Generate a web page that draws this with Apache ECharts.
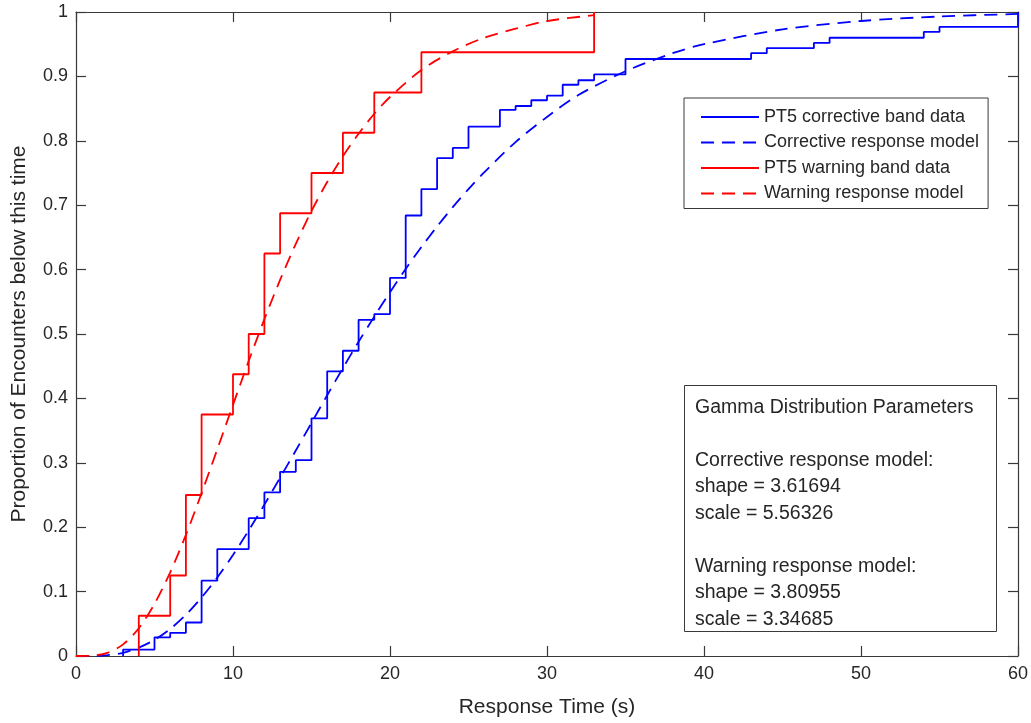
<!DOCTYPE html>
<html>
<head>
<meta charset="utf-8">
<script src="https://cdn.jsdelivr.net/npm/echarts@6/dist/echarts.min.js"></script>
<style>
html,body{margin:0;padding:0;background:#fff;}
#chart{width:1031px;height:723px;}
</style>
</head>
<body>
<div id="chart"></div>
<script>
// ---- Data ----
// Empirical step data: x where the step occurs, and the level after the step
const correctiveStepX = [3,5,6,7,8,9,11,12,13,14,15,16,17,18,19,20,21,22,23,24,25,27,28,29,30,31,32,33,35,43,44,47,48,54,55,60];
const correctiveStepY = [0.010,0.029,0.036,0.052,0.117,0.166,0.214,0.254,0.286,0.304,0.369,0.442,0.474,0.522,0.531,0.587,0.684,0.725,0.773,0.789,0.822,0.848,0.854,0.863,0.870,0.887,0.894,0.903,0.927,0.936,0.944,0.952,0.960,0.969,0.977,1.0];

const warningStepX = [4,6,7,8,10,11,12,13,15,17,19,22,33];
const warningStepY = [0.0625,0.125,0.25,0.375,0.4375,0.5,0.625,0.6875,0.75,0.8125,0.875,0.9375,1.0];

// Fitted model curves (dashed)
const correctiveModelX = [0,1,2,3,4,5,6,7,8,9,10,11,12,13,14,15,16,17,18,19,20,21,22,23,24,25,26,28,30,32,35,38,40,45,50,55,60];
const correctiveModelY = [0,0.0001,0.0014,0.005,0.013,0.025,0.042,0.064,0.091,0.122,0.157,0.195,0.235,0.277,0.319,0.362,0.405,0.447,0.488,0.527,0.565,0.601,0.635,0.667,0.697,0.725,0.751,0.798,0.837,0.871,0.908,0.936,0.950,0.973,0.986,0.993,0.997];

const warningModelX = [0,1,2,3,4,5,6,7,8,9,10,11,12,13,14,15,16,17,18,19,20,22,24,26,28,30,33];
const warningModelY = [0,0.0004,0.005,0.018,0.043,0.081,0.130,0.188,0.253,0.321,0.390,0.458,0.523,0.584,0.640,0.691,0.736,0.776,0.811,0.842,0.868,0.910,0.939,0.960,0.974,0.986,0.995];

const seriesNames = ['PT5 corrective band data','Corrective response model','PT5 warning band data','Warning response model'];
const xAxisTitle = 'Response Time (s)';
const yAxisTitle = 'Proportion of Encounters below this time';
const paramLines = [
  'Gamma Distribution Parameters',
  '',
  'Corrective response model:',
  'shape = 3.61694',
  'scale = 5.56326',
  '',
  'Warning response model:',
  'shape = 3.80955',
  'scale = 3.34685'
];

// ---- Build ----
function stepData(xs, ys){
  const d = [[xs[0], 0]];
  xs.forEach((x,i)=>d.push([x, ys[i]]));
  return d;
}
function zip(xs, ys){ return xs.map((x,i)=>[x, ys[i]]); }

const FONT = "'Liberation Sans', Arial, Helvetica, sans-serif";
const TXT = '#262626';
const AX = '#3a3a3a';
const BLUE = '#0000ff';
const RED = '#ff0000';
const DASH = [13, 8];

const axisCommon = {
  axisLine: { show: true, onZero: false, lineStyle: { color: AX, width: 1.2 } },
  axisTick: { show: true, inside: true, length: 10, lineStyle: { color: AX, width: 1.2 } },
  splitLine: { show: false }
};

const chart = echarts.init(document.getElementById('chart'), null, { renderer: 'canvas' });
chart.setOption({
  animation: false,
  backgroundColor: '#ffffff',
  grid: { left: 76, right: 13, top: 12, bottom: 67, containLabel: false },
  xAxis: [
    Object.assign({
      type: 'value', min: 0, max: 60, interval: 10, position: 'bottom',
      axisLabel: { color: TXT, fontSize: 18, fontFamily: FONT, margin: 9 },
      name: xAxisTitle, nameLocation: 'middle', nameGap: 41,
      nameTextStyle: { color: TXT, fontSize: 21, fontFamily: FONT }
    }, axisCommon),
    Object.assign({
      type: 'value', min: 0, max: 60, interval: 10, position: 'top',
      axisLabel: { show: false }
    }, axisCommon)
  ],
  yAxis: [
    Object.assign({
      type: 'value', min: 0, max: 1, interval: 0.1, position: 'left',
      axisLabel: { color: TXT, fontSize: 18, fontFamily: FONT, margin: 8,
        formatter: v => String(Math.round(v * 10) / 10) },
      name: yAxisTitle, nameLocation: 'middle', nameGap: 46,
      nameTextStyle: { color: TXT, fontSize: 21, fontFamily: FONT }
    }, axisCommon),
    Object.assign({
      type: 'value', min: 0, max: 1, interval: 0.1, position: 'right',
      axisLabel: { show: false }
    }, axisCommon)
  ],
  legend: {
    orient: 'vertical', left: 684, top: 98,
    padding: [9, 9, 5, 16],
    itemWidth: 58, itemHeight: 14, itemGap: 5.5,
    borderColor: AX, borderWidth: 1, backgroundColor: '#ffffff',
    itemStyle: { opacity: 0 },
    textStyle: { color: TXT, fontSize: 18, fontFamily: FONT, lineHeight: 20 },
    data: seriesNames
  },
  series: [
    { name: seriesNames[0], type: 'line', step: 'end', data: stepData(correctiveStepX, correctiveStepY),
      symbol: 'none', lineStyle: { color: BLUE, width: 1.8 }, itemStyle: { color: BLUE } },
    { name: seriesNames[1], type: 'line', data: zip(correctiveModelX, correctiveModelY), smooth: 0.3,
      symbol: 'none', lineStyle: { color: BLUE, width: 1.8, type: DASH }, itemStyle: { color: BLUE } },
    { name: seriesNames[2], type: 'line', step: 'end', data: stepData(warningStepX, warningStepY),
      symbol: 'none', lineStyle: { color: RED, width: 1.8 }, itemStyle: { color: RED } },
    { name: seriesNames[3], type: 'line', data: zip(warningModelX, warningModelY), smooth: 0.3,
      symbol: 'none', lineStyle: { color: RED, width: 1.8, type: DASH }, itemStyle: { color: RED } }
  ],
  graphic: [
    { type: 'rect', z: 100, shape: { x: 684.5, y: 385.5, width: 312, height: 246 },
      style: { fill: '#ffffff', stroke: AX, lineWidth: 1 } },
    { type: 'text', z: 101, x: 695, y: 394,
      style: { text: paramLines.join('\n'), fill: TXT, font: "19.5px 'Liberation Sans', Arial, sans-serif",
               lineHeight: 26.5, verticalAlign: 'top', align: 'left' } }
  ]
});
</script>
</body>
</html>
